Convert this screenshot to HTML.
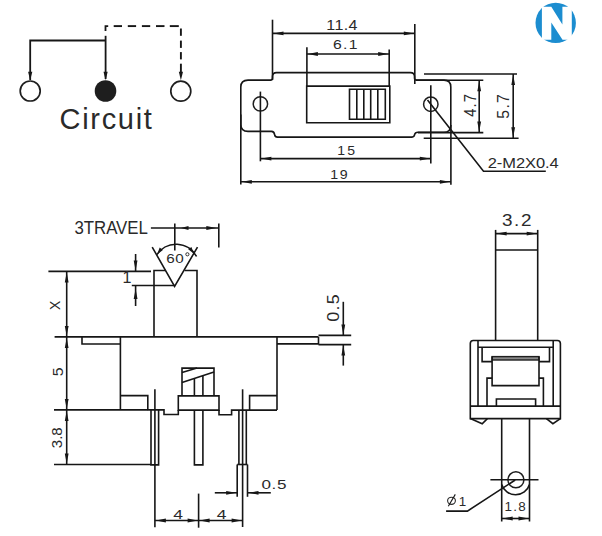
<!DOCTYPE html>
<html><head><meta charset="utf-8"><style>
html,body{margin:0;padding:0;background:#fff;}
svg{display:block;}
text{font-family:"Liberation Sans",sans-serif;fill:#2a2a2a;}
</style></head><body>
<svg width="602" height="536" viewBox="0 0 602 536">
<rect width="602" height="536" fill="#fff"/>
<path d="M30.2,80 V40.5 H105.6" fill="none" stroke="#161616" stroke-width="1.8" />
<line x1="105.6" y1="35.8" x2="105.6" y2="79" stroke="#161616" stroke-width="1.8"/>
<path d="M105.5,31 V26.1 H108.2" fill="none" stroke="#161616" stroke-width="1.8" />
<line x1="113.7" y1="26.1" x2="122" y2="26.1" stroke="#161616" stroke-width="1.9"/>
<line x1="127.8" y1="26.1" x2="136.1" y2="26.1" stroke="#161616" stroke-width="1.9"/>
<line x1="141.9" y1="26.1" x2="150.2" y2="26.1" stroke="#161616" stroke-width="1.9"/>
<line x1="156" y1="26.1" x2="164.5" y2="26.1" stroke="#161616" stroke-width="1.9"/>
<line x1="169.8" y1="26.1" x2="178.8" y2="26.1" stroke="#161616" stroke-width="1.9"/>
<line x1="180.9" y1="28.5" x2="180.9" y2="35.8" stroke="#161616" stroke-width="1.9"/>
<line x1="180.9" y1="40.6" x2="180.9" y2="47.9" stroke="#161616" stroke-width="1.9"/>
<line x1="180.9" y1="52.1" x2="180.9" y2="59.4" stroke="#161616" stroke-width="1.9"/>
<line x1="180.9" y1="63.7" x2="180.9" y2="72" stroke="#161616" stroke-width="1.9"/>
<polygon points="30.20,80.20 28.10,71.70 32.30,71.70" fill="#161616"/>
<polygon points="105.60,80.20 103.50,71.70 107.70,71.70" fill="#161616"/>
<polygon points="180.90,80.20 178.80,71.70 183.00,71.70" fill="#161616"/>
<circle cx="30.2" cy="91" r="10" fill="none" stroke="#1e1e1e" stroke-width="1.7"/>
<circle cx="105.5" cy="91" r="10.8" fill="#1e1e1e"/>
<circle cx="180.8" cy="91.2" r="10" fill="none" stroke="#1e1e1e" stroke-width="1.7"/>
<text transform="translate(59.53,129.30) scale(1.000,1)" font-size="29.00" letter-spacing="1.70" fill="#1a1a1a">Circuit</text>
<path d="M248,80.1 H270.5 Q272.5,80.1 272.5,78 V76.6 Q272.5,72.6 276.5,72.6 H410.5 Q414.5,72.6 414.5,76.6 V78 Q414.5,80.1 416.5,80.1 H444 Q450.8,80.1 450.8,87 V125.5 Q450.8,132.3 444,132.3 H418 Q415,132.3 414.6,134.6 Q414.2,137.1 411.5,137.1 H277.5 Q275,137.1 274.6,134.6 Q274.2,131.4 271.5,131.4 H248 Q240.8,131.4 240.8,124.5 V87 Q240.8,80.1 248,80.1 Z" fill="none" stroke="#161616" stroke-width="1.6" />
<circle cx="260.4" cy="103.9" r="7.2" fill="none" stroke="#1e1e1e" stroke-width="1.5"/>
<circle cx="430.8" cy="104.2" r="7.2" fill="none" stroke="#1e1e1e" stroke-width="1.5"/>
<path d="M306.7,86.1 H389.8 V122.7 H306.7 Z" fill="none" stroke="#161616" stroke-width="1.6" />
<path d="M349.5,89.3 H385.3 V119.2 H349.5 Z" fill="none" stroke="#161616" stroke-width="1.6" />
<line x1="356.8" y1="89.3" x2="356.8" y2="119.2" stroke="#161616" stroke-width="1.6"/>
<line x1="363.8" y1="89.3" x2="363.8" y2="119.2" stroke="#161616" stroke-width="1.6"/>
<line x1="370.7" y1="89.3" x2="370.7" y2="119.2" stroke="#161616" stroke-width="1.6"/>
<line x1="377.8" y1="89.3" x2="377.8" y2="119.2" stroke="#161616" stroke-width="1.6"/>
<line x1="272.5" y1="19.7" x2="272.5" y2="80" stroke="#161616" stroke-width="1.6"/>
<line x1="414.8" y1="24" x2="414.8" y2="84" stroke="#161616" stroke-width="1.6"/>
<line x1="272.5" y1="33.4" x2="414.8" y2="33.4" stroke="#161616" stroke-width="1.6"/>
<polygon points="273.50,33.40 283.50,31.50 283.50,35.30" fill="#161616"/>
<polygon points="413.80,33.40 403.80,35.30 403.80,31.50" fill="#161616"/>
<text transform="translate(326.36,30.00) scale(1.150,1)" font-size="13.95" letter-spacing="0.31" fill="#2a2a2a">11.4</text>
<line x1="306.9" y1="47.3" x2="306.9" y2="86" stroke="#161616" stroke-width="1.6"/>
<line x1="389.2" y1="49.5" x2="389.2" y2="86" stroke="#161616" stroke-width="1.6"/>
<line x1="306.9" y1="54" x2="389.2" y2="54" stroke="#161616" stroke-width="1.6"/>
<polygon points="307.90,54.00 317.90,52.10 317.90,55.90" fill="#161616"/>
<polygon points="388.20,54.00 378.20,55.90 378.20,52.10" fill="#161616"/>
<text transform="translate(332.90,48.90) scale(1.150,1)" font-size="13.66" letter-spacing="1.15" fill="#2a2a2a">6.1</text>
<line x1="260.4" y1="91.6" x2="260.4" y2="161.3" stroke="#161616" stroke-width="1.6"/>
<line x1="430.8" y1="85.2" x2="430.8" y2="163.6" stroke="#161616" stroke-width="1.6"/>
<line x1="260.4" y1="158.6" x2="430.8" y2="158.6" stroke="#161616" stroke-width="1.6"/>
<polygon points="261.40,158.60 271.40,156.70 271.40,160.50" fill="#161616"/>
<polygon points="429.80,158.60 419.80,160.50 419.80,156.70" fill="#161616"/>
<text transform="translate(337.35,154.60) scale(1.150,1)" font-size="12.21" letter-spacing="1.85" fill="#2a2a2a">15</text>
<line x1="240.8" y1="114.5" x2="240.8" y2="184.5" stroke="#161616" stroke-width="1.6"/>
<line x1="450.9" y1="125" x2="450.9" y2="184.8" stroke="#161616" stroke-width="1.6"/>
<line x1="240.8" y1="181.8" x2="450.9" y2="181.8" stroke="#161616" stroke-width="1.6"/>
<polygon points="241.80,181.80 251.80,179.90 251.80,183.70" fill="#161616"/>
<polygon points="449.90,181.80 439.90,183.70 439.90,179.90" fill="#161616"/>
<text transform="translate(330.23,179.00) scale(1.150,1)" font-size="12.35" letter-spacing="1.42" fill="#2a2a2a">19</text>
<line x1="416" y1="80.3" x2="483.3" y2="80.3" stroke="#161616" stroke-width="1.6"/>
<line x1="418" y1="132.6" x2="483.3" y2="132.6" stroke="#161616" stroke-width="1.6"/>
<line x1="479.2" y1="80.3" x2="479.2" y2="132.6" stroke="#161616" stroke-width="1.6"/>
<polygon points="479.20,81.30 481.10,91.30 477.30,91.30" fill="#161616"/>
<polygon points="479.20,131.60 477.30,121.60 481.10,121.60" fill="#161616"/>
<line x1="424" y1="74" x2="517" y2="74" stroke="#161616" stroke-width="1.6"/>
<line x1="423.7" y1="138.3" x2="518.6" y2="138.3" stroke="#161616" stroke-width="1.6"/>
<line x1="513.2" y1="74" x2="513.2" y2="138.3" stroke="#161616" stroke-width="1.6"/>
<polygon points="513.20,75.00 515.10,85.00 511.30,85.00" fill="#161616"/>
<polygon points="513.20,137.30 511.30,127.30 515.10,127.30" fill="#161616"/>
<text transform="translate(476.20,116.74) rotate(-90) scale(0.920,1)" font-size="15.99" letter-spacing="1.16" fill="#2a2a2a">4.7</text>
<text transform="translate(508.70,118.73) rotate(-90) scale(0.920,1)" font-size="17.15" letter-spacing="1.46" fill="#2a2a2a">5.7</text>
<path d="M427.5,100 L483.5,171.2 H545.8" fill="none" stroke="#161616" stroke-width="1.6" />
<text transform="translate(487.67,167.90) scale(1.080,1)" font-size="15.26" letter-spacing="-0.05" fill="#1a1a1a">2-M2X0.4</text>
<circle cx="555.7" cy="22.9" r="20.2" fill="#1c8dd0"/>
<polygon points="541.9,6.7 551.3,6.7 562.4,24.5 562.4,6.7 571.8,6.7 571.8,39.7 562.5,39.7 551.3,22.4 551.3,39.7 541.9,39.7" fill="#ffffff"/>
<text transform="translate(74.56,234.40) scale(0.950,1)" font-size="17.73" letter-spacing="-0.07" fill="#2a2a2a">3TRAVEL</text>
<line x1="150.9" y1="228" x2="218.8" y2="228" stroke="#161616" stroke-width="1.6"/>
<line x1="174.8" y1="223.5" x2="174.8" y2="250.4" stroke="#161616" stroke-width="1.6"/>
<line x1="218.8" y1="223.5" x2="218.8" y2="247.4" stroke="#161616" stroke-width="1.6"/>
<polygon points="181.00,228.00 188.50,226.00 188.50,230.00" fill="#161616"/>
<polygon points="216.30,228.00 206.30,229.90 206.30,226.10" fill="#161616"/>
<path d="M152.2,247.1 L174.6,286.3 L197.5,247.1" fill="none" stroke="#161616" stroke-width="1.6" />
<path d="M156.9,254.6 A23,23 0 0 1 196.5,256.5" fill="none" stroke="#161616" stroke-width="1.6" />
<polygon points="157.10,254.40 159.70,247.60 162.90,250.00" fill="#161616"/>
<polygon points="194.00,253.70 188.20,249.30 191.40,246.90" fill="#161616"/>
<text transform="translate(166.32,262.50) scale(1.120,1)" font-size="13.66" letter-spacing="0.32" fill="#2a2a2a">60</text>
<circle cx="187.4" cy="254.3" r="1.6" fill="none" stroke="#1e1e1e" stroke-width="0.9"/>
<path d="M165.6,270.5 H154 V336.9" fill="none" stroke="#161616" stroke-width="1.6" />
<path d="M184.6,270.5 H197 V336.9" fill="none" stroke="#161616" stroke-width="1.6" />
<line x1="48.4" y1="271.4" x2="151" y2="271.4" stroke="#161616" stroke-width="1.6"/>
<line x1="131.8" y1="285.5" x2="174.6" y2="285.5" stroke="#161616" stroke-width="1.6"/>
<line x1="135.6" y1="254" x2="135.6" y2="271.4" stroke="#161616" stroke-width="1.6"/>
<polygon points="135.60,270.40 133.70,260.40 137.50,260.40" fill="#161616"/>
<line x1="135.6" y1="285.5" x2="135.6" y2="306" stroke="#161616" stroke-width="1.6"/>
<polygon points="135.60,289.00 137.50,299.00 133.70,299.00" fill="#161616"/>
<text transform="translate(122.55,283.00) scale(1.000,1)" font-size="16.13" letter-spacing="0.00" fill="#2a2a2a">1</text>
<line x1="66.7" y1="271.4" x2="66.7" y2="336.9" stroke="#161616" stroke-width="1.6"/>
<polygon points="66.70,272.40 68.60,282.40 64.80,282.40" fill="#161616"/>
<polygon points="66.70,335.90 64.80,325.90 68.60,325.90" fill="#161616"/>
<text transform="translate(60.30,309.91) rotate(-90) scale(0.941,1)" font-size="14.83" letter-spacing="0.00" fill="#2a2a2a">X</text>
<line x1="54.6" y1="336.9" x2="318.5" y2="336.9" stroke="#161616" stroke-width="1.6"/>
<line x1="66.7" y1="336.9" x2="66.7" y2="409.9" stroke="#161616" stroke-width="1.6"/>
<polygon points="66.70,337.90 68.60,347.90 64.80,347.90" fill="#161616"/>
<polygon points="66.70,408.90 64.80,398.90 68.60,398.90" fill="#161616"/>
<text transform="translate(62.80,376.33) rotate(-90) scale(1.017,1)" font-size="15.55" letter-spacing="0.00" fill="#2a2a2a">5</text>
<line x1="54" y1="409.9" x2="148" y2="409.9" stroke="#161616" stroke-width="1.6"/>
<line x1="54" y1="464.5" x2="151" y2="464.5" stroke="#161616" stroke-width="1.6"/>
<line x1="66.7" y1="409.9" x2="66.7" y2="464.5" stroke="#161616" stroke-width="1.6"/>
<polygon points="66.70,410.90 68.60,420.90 64.80,420.90" fill="#161616"/>
<polygon points="66.70,463.50 64.80,453.50 68.60,453.50" fill="#161616"/>
<text transform="translate(62.00,448.18) rotate(-90) scale(1.050,1)" font-size="14.39" letter-spacing="-0.08" fill="#2a2a2a">3.8</text>
<path d="M82,336.9 V344 H120.4" fill="none" stroke="#161616" stroke-width="1.6" />
<line x1="120.4" y1="336.9" x2="120.4" y2="409.9" stroke="#161616" stroke-width="1.6"/>
<path d="M120.4,395.6 H147.8 V409.9" fill="none" stroke="#161616" stroke-width="1.6" />
<path d="M147.8,409.9 H164 V414.5 H178.3 V410" fill="none" stroke="#161616" stroke-width="1.6" />
<path d="M178.3,395.9 H219 V410.1 H178.3 Z" fill="none" stroke="#161616" stroke-width="1.6" />
<path d="M182,395.9 V368.1 H214 V395.9" fill="none" stroke="#161616" stroke-width="1.6" />
<line x1="182" y1="372.6" x2="197" y2="368.1" stroke="#161616" stroke-width="1.6"/>
<line x1="182" y1="382.4" x2="214" y2="372" stroke="#161616" stroke-width="1.6"/>
<line x1="194.4" y1="378.5" x2="194.4" y2="395.9" stroke="#161616" stroke-width="1.6"/>
<line x1="202.9" y1="376" x2="202.9" y2="395.9" stroke="#161616" stroke-width="1.6"/>
<path d="M194.4,410.1 V464.9 H202.9 V410.1" fill="none" stroke="#161616" stroke-width="1.6" />
<path d="M219,410.1 V414.7 H231.6 V410.1 H277" fill="none" stroke="#161616" stroke-width="1.6" />
<path d="M249.6,410.1 V395.6 H277" fill="none" stroke="#161616" stroke-width="1.6" />
<line x1="277" y1="336.9" x2="277" y2="410.1" stroke="#161616" stroke-width="1.6"/>
<path d="M277,343.9 H318.5 V336.9" fill="none" stroke="#161616" stroke-width="1.6" />
<path d="M151,409.9 V464.9 H158.6 V409.9" fill="none" stroke="#161616" stroke-width="1.6" />
<line x1="154.9" y1="389.3" x2="154.9" y2="527.2" stroke="#161616" stroke-width="1.6"/>
<path d="M238.9,410.1 V464.5 M246.3,410.1 V464.5" fill="none" stroke="#161616" stroke-width="1.6" />
<line x1="242.6" y1="389.3" x2="242.6" y2="527" stroke="#161616" stroke-width="1.6"/>
<line x1="237.2" y1="464.5" x2="247.5" y2="464.5" stroke="#161616" stroke-width="1.6"/>
<line x1="237.2" y1="464.5" x2="237.2" y2="496.8" stroke="#161616" stroke-width="1.6"/>
<line x1="247.5" y1="464.5" x2="247.5" y2="496.8" stroke="#161616" stroke-width="1.6"/>
<line x1="214.8" y1="492.8" x2="237.2" y2="492.8" stroke="#161616" stroke-width="1.6"/>
<polygon points="236.20,492.80 226.20,494.70 226.20,490.90" fill="#161616"/>
<line x1="247.5" y1="492.8" x2="270.8" y2="492.8" stroke="#161616" stroke-width="1.6"/>
<polygon points="248.50,492.80 258.50,490.90 258.50,494.70" fill="#161616"/>
<text transform="translate(261.43,489.30) scale(1.250,1)" font-size="13.66" letter-spacing="0.54" fill="#2a2a2a">0.5</text>
<line x1="198.6" y1="493.6" x2="198.6" y2="527.7" stroke="#161616" stroke-width="1.6"/>
<line x1="154.9" y1="520.5" x2="242.6" y2="520.5" stroke="#161616" stroke-width="1.6"/>
<polygon points="155.90,520.50 165.90,518.60 165.90,522.40" fill="#161616"/>
<polygon points="197.60,520.50 187.60,522.40 187.60,518.60" fill="#161616"/>
<polygon points="199.60,520.50 209.60,518.60 209.60,522.40" fill="#161616"/>
<polygon points="241.60,520.50 231.60,522.40 231.60,518.60" fill="#161616"/>
<text transform="translate(173.20,519.20) scale(1.278,1)" font-size="13.66" letter-spacing="0.00" fill="#2a2a2a">4</text>
<text transform="translate(216.80,519.20) scale(1.278,1)" font-size="13.66" letter-spacing="0.00" fill="#2a2a2a">4</text>
<line x1="318.5" y1="335.4" x2="351.2" y2="335.4" stroke="#161616" stroke-width="1.6"/>
<line x1="318.5" y1="344.6" x2="351.2" y2="344.6" stroke="#161616" stroke-width="1.6"/>
<line x1="343.3" y1="301.8" x2="343.3" y2="335.4" stroke="#161616" stroke-width="1.6"/>
<polygon points="343.30,334.40 341.40,324.40 345.20,324.40" fill="#161616"/>
<line x1="343.3" y1="344.6" x2="343.3" y2="365.6" stroke="#161616" stroke-width="1.6"/>
<polygon points="343.30,345.60 345.20,355.60 341.40,355.60" fill="#161616"/>
<text transform="translate(338.60,321.80) rotate(-90) scale(1.050,1)" font-size="17.01" letter-spacing="1.25" fill="#2a2a2a">0.5</text>
<line x1="495.6" y1="229.9" x2="495.6" y2="340.5" stroke="#161616" stroke-width="1.6"/>
<line x1="537.7" y1="229.9" x2="537.7" y2="340.5" stroke="#161616" stroke-width="1.6"/>
<line x1="495.6" y1="250" x2="537.7" y2="250" stroke="#161616" stroke-width="1.6"/>
<line x1="495.6" y1="233.6" x2="537.7" y2="233.6" stroke="#161616" stroke-width="1.6"/>
<polygon points="496.60,233.60 506.60,231.70 506.60,235.50" fill="#161616"/>
<polygon points="536.70,233.60 526.70,235.50 526.70,231.70" fill="#161616"/>
<text transform="translate(501.88,225.80) scale(1.120,1)" font-size="16.86" letter-spacing="1.53" fill="#2a2a2a">3.2</text>
<path d="M470.3,418.6 V343.5 Q470.3,340.5 473.3,340.5 H557.4 Q560.4,340.5 560.4,343.5 V418.6 Z" fill="none" stroke="#161616" stroke-width="1.6" />
<line x1="470.3" y1="406.1" x2="560.4" y2="406.1" stroke="#161616" stroke-width="1.6"/>
<line x1="478" y1="340.5" x2="478" y2="406.1" stroke="#161616" stroke-width="1.6"/>
<line x1="553.2" y1="340.5" x2="553.2" y2="406.1" stroke="#161616" stroke-width="1.6"/>
<line x1="478" y1="347.2" x2="553.2" y2="347.2" stroke="#161616" stroke-width="1.6"/>
<path d="M482.1,347.2 V361.6 H492.1" fill="none" stroke="#161616" stroke-width="1.6" />
<path d="M549.5,347.2 V361.6 H539" fill="none" stroke="#161616" stroke-width="1.6" />
<rect x="492.1" y="356.6" width="46.9" height="3.4" fill="#888" stroke="#1e1e1e" stroke-width="1.4"/>
<path d="M492.1,356.6 V385.6 H539 V356.6" fill="none" stroke="#161616" stroke-width="1.6" />
<path d="M487,406.1 V378.1 H492.1" fill="none" stroke="#161616" stroke-width="1.6" />
<path d="M543.4,406.1 V378.1 H539" fill="none" stroke="#161616" stroke-width="1.6" />
<path d="M496.4,406.1 V399 H535.6 V406.1" fill="none" stroke="#161616" stroke-width="1.6" />
<path d="M470.3,418.6 L482.2,423.7 L487.4,418.6" fill="none" stroke="#161616" stroke-width="1.6" />
<path d="M560.4,418.6 L552.9,423.7 L546.4,418.6" fill="none" stroke="#161616" stroke-width="1.6" />
<line x1="501.7" y1="418.6" x2="501.7" y2="521.5" stroke="#161616" stroke-width="1.6"/>
<line x1="529.5" y1="418.6" x2="529.5" y2="521.5" stroke="#161616" stroke-width="1.6"/>
<path d="M501.7,484.4 A14.5,14.5 0 0 0 529.5,484.4" fill="none" stroke="#161616" stroke-width="1.6" />
<circle cx="515.9" cy="479.8" r="8" fill="none" stroke="#1e1e1e" stroke-width="1.5"/>
<line x1="490.4" y1="479.7" x2="538.5" y2="479.7" stroke="#161616" stroke-width="1.6"/>
<path d="M515.2,480 L467.4,511.1 H446.1" fill="none" stroke="#161616" stroke-width="1.6" />
<ellipse cx="451.5" cy="500.8" rx="3.9" ry="3.6" fill="none" stroke="#2a2a2a" stroke-width="1.1"/>
<line x1="448.3" y1="506.3" x2="455.3" y2="494.4" stroke="#161616" stroke-width="1.1"/>
<text transform="translate(458.81,505.60) scale(1.000,1)" font-size="13.37" letter-spacing="0.00" fill="#2a2a2a">1</text>
<line x1="501.7" y1="518.5" x2="529.5" y2="518.5" stroke="#161616" stroke-width="1.6"/>
<polygon points="502.70,518.50 512.70,516.60 512.70,520.40" fill="#161616"/>
<polygon points="528.50,518.50 518.50,520.40 518.50,516.60" fill="#161616"/>
<text transform="translate(504.41,510.90) scale(1.050,1)" font-size="12.79" letter-spacing="1.24" fill="#2a2a2a">1.8</text>
</svg>
</body></html>
